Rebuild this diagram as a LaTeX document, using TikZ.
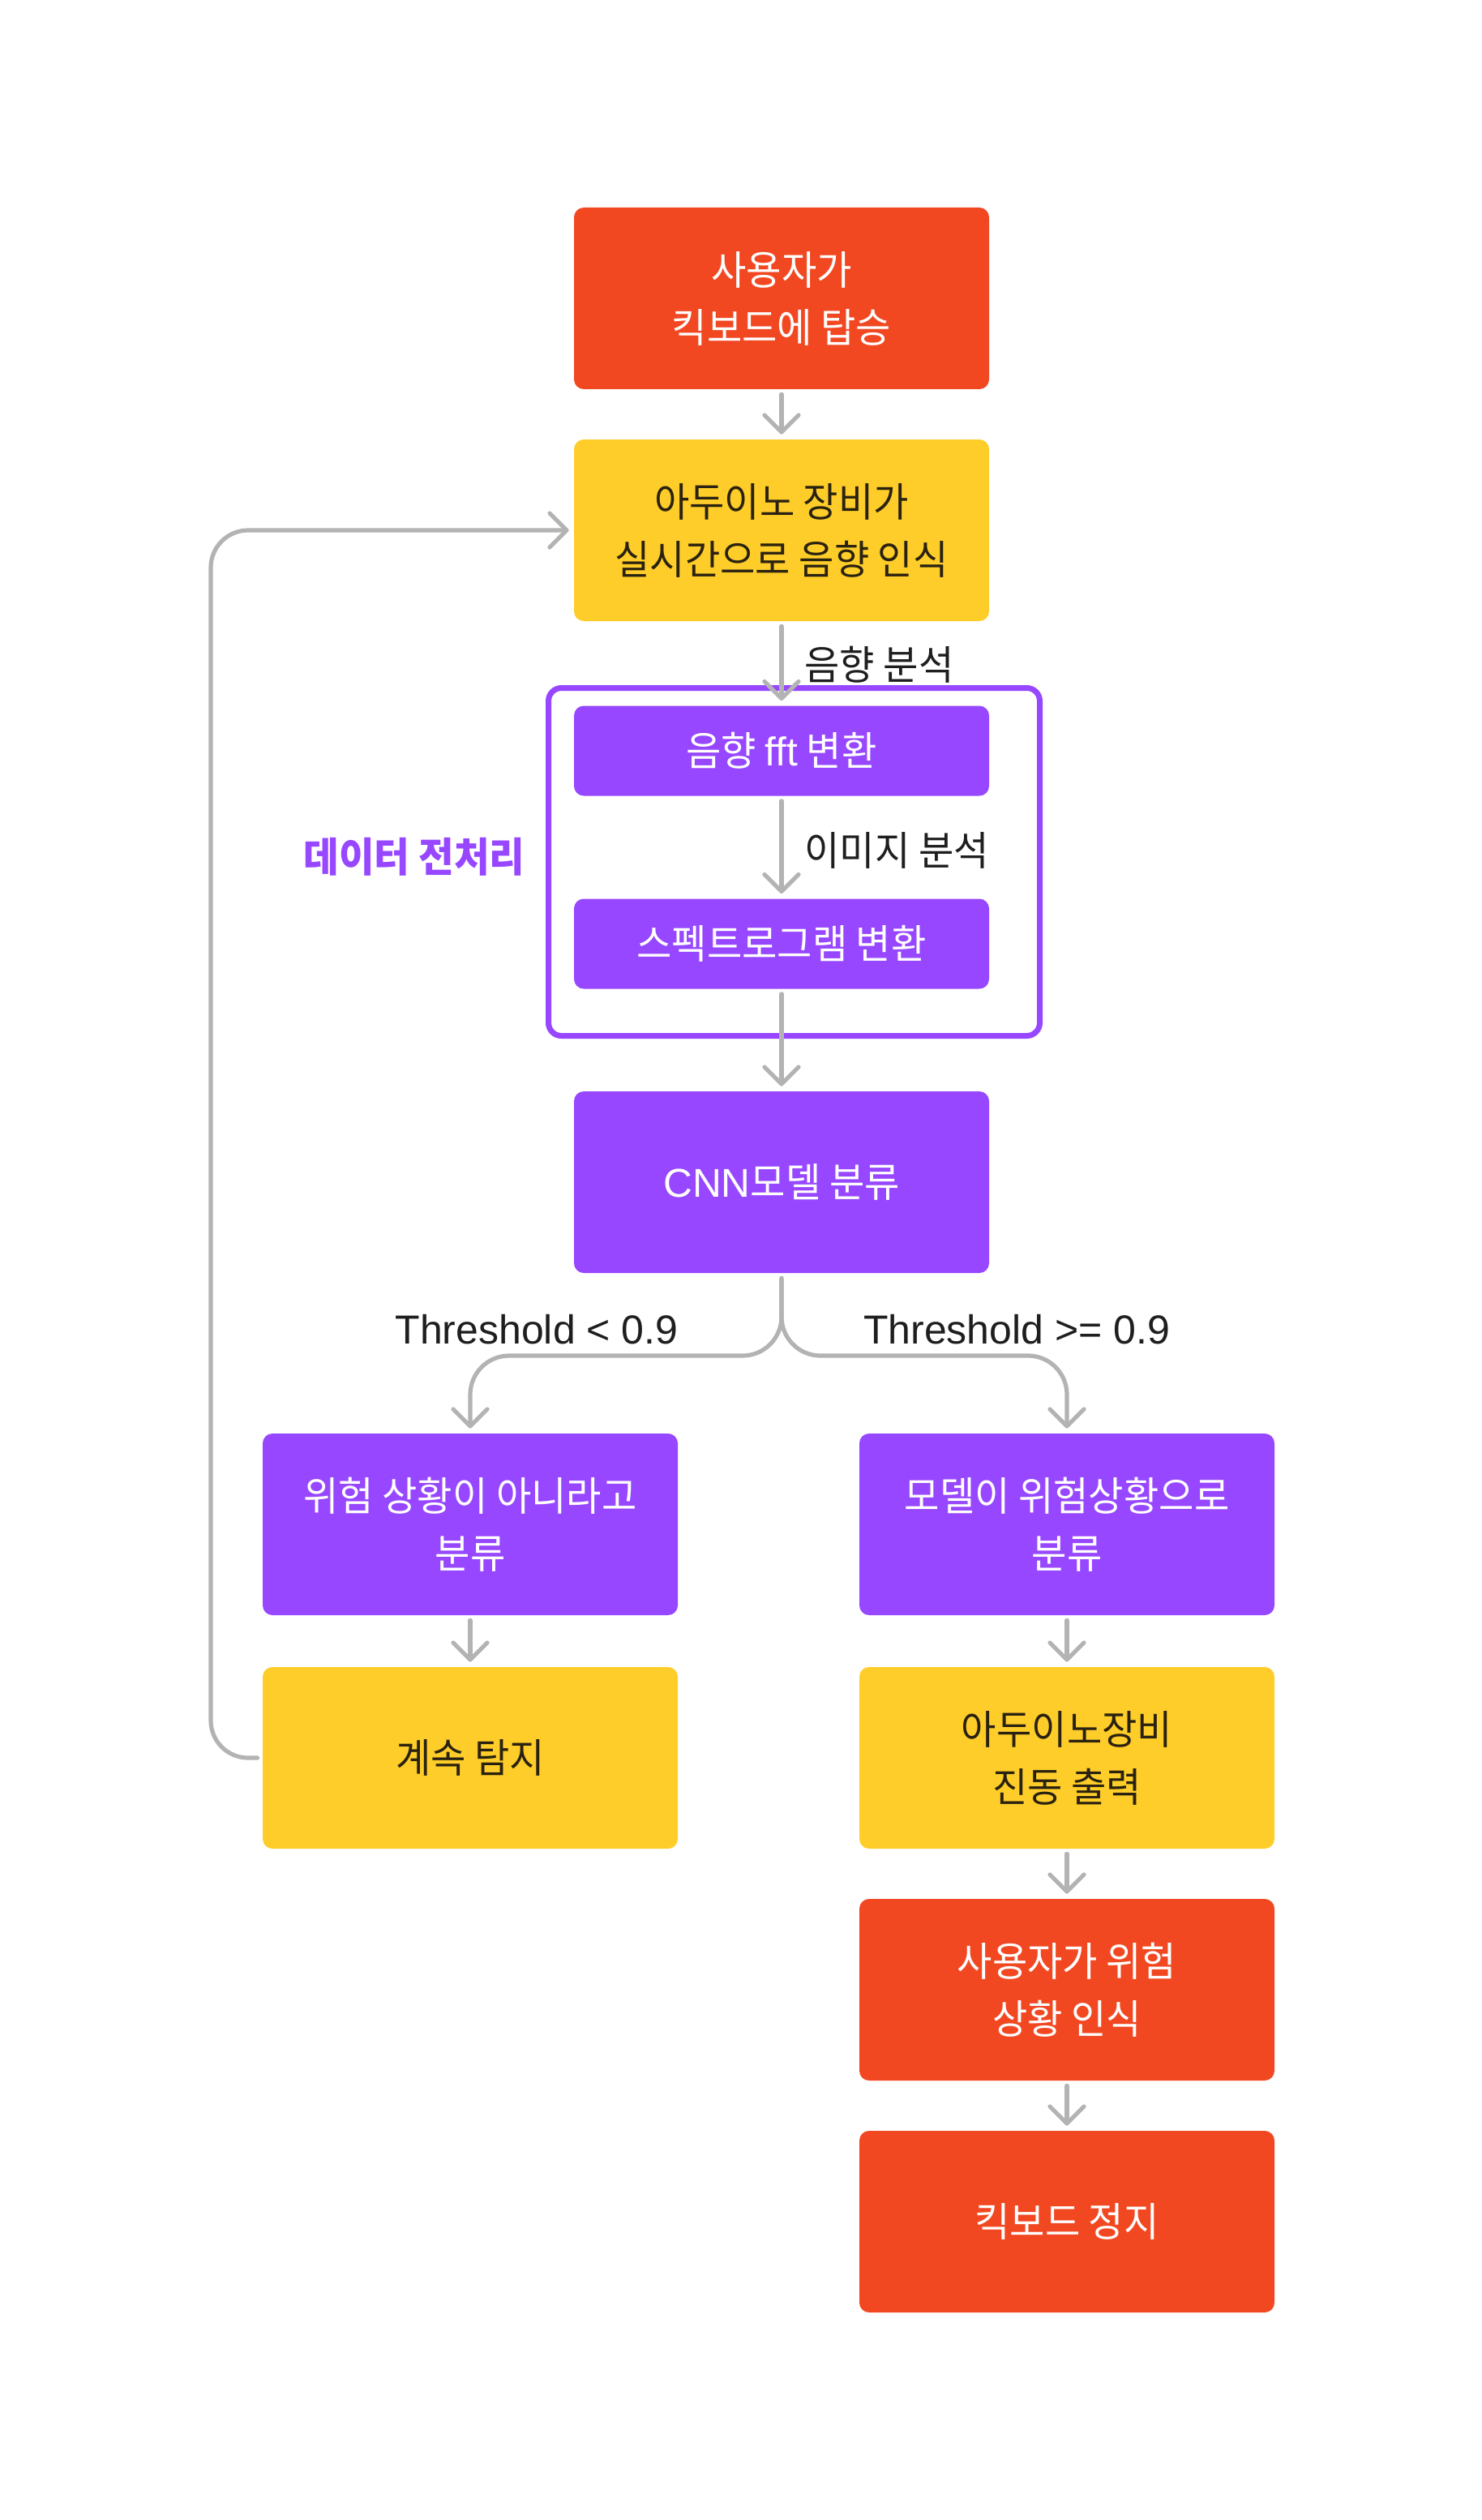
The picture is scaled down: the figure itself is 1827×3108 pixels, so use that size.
\documentclass[tikz,border=0pt]{standalone}
\usepackage{fontspec}
\setmainfont{Liberation Sans}
\newfontfamily\kr[FakeStretch=0.95]{Noto Sans CJK KR}
\usetikzlibrary{arrows.meta}
\definecolor{kred}{HTML}{F24822}
\definecolor{kyel}{HTML}{FFCD29}
\definecolor{kpur}{HTML}{9747FF}
\definecolor{kgray}{HTML}{B3B3B3}
\definecolor{kdark}{HTML}{1E1E1E}
\definecolor{kbrown}{HTML}{2A2210}
\begin{document}
\begin{tikzpicture}[x=0.5pt,y=-0.5pt,
  box/.style={rectangle, rounded corners=6pt, minimum width=256pt, minimum height=112pt,
    inner sep=0pt, align=center, font=\kr\fontsize{24.8}{35.5}\selectfont, text=white},
  redbox/.style={box, fill=kred},
  yelbox/.style={box, fill=kyel, text=kbrown},
  purbox/.style={box, fill=kpur},
  thinbox/.style={minimum height=55.5pt},
  lbl/.style={font=\kr\fontsize{24.8}{28}\selectfont, text=kdark, inner sep=0pt},
  thr/.style={font=\fontsize{25}{28}\selectfont, text=kdark, inner sep=0pt},
  conn/.style={draw=kgray, line width=2.6pt, line cap=round, line join=round,
    shorten >=3pt, shorten <=3pt,
    -{Straight Barb[length=10.5pt,width=21pt,round]}}
]
\fill[white] (0,0) rectangle (1827,3108);
\useasboundingbox (0,0) rectangle (1827,3108);

% pre-processing frame
\node[draw=kpur, line width=3.5pt, rounded corners=8pt, minimum width=303pt,
  minimum height=214.5pt, inner sep=0pt] (frame) at (979.5,1063) {};
\node[font=\kr\bfseries\fontsize{25}{28}\selectfont, text=kpur, anchor=east, inner sep=0pt]
  (prelbl) at (648,1057) {데이터 전처리};

% boxes
\node[redbox] (n1) at (964,368) {사용자가\\킥보드에 탑승};
\node[yelbox] (n2) at (964,654) {아두이노 장비가\\실시간으로 음향 인식};
\node[purbox,thinbox] (n3) at (964,926) {음향 {\rmfamily fft} 변환};
\node[purbox,thinbox] (n4) at (964,1164) {스펙트로그램 변환};
\node[purbox] (n5) at (964,1458) {{\rmfamily CNN}모델 분류};
\node[purbox] (l1) at (580,1880) {위험 상황이 아니라고\\분류};
\node[purbox] (r1) at (1316,1880) {모델이 위험상황으로\\분류};
\node[yelbox] (l2) at (580,2168) {계속 탐지};
\node[yelbox] (r2) at (1316,2168) {아두이노장비\\진동 출력};
\node[redbox] (r3) at (1316,2454) {사용자가 위험\\상황 인식};
\node[redbox] (r4) at (1316,2740) {킥보드 정지};

% labels
\node[lbl, anchor=west] (t1) at (992,820) {음향 분석};
\node[lbl, anchor=west] (t2) at (992,1049) {이미지 분석};
\node[thr] (t3) at (662,1640) {Threshold < 0.9};
\node[thr] (t4) at (1254,1640) {Threshold >= 0.9};

% connectors
\draw[conn] (n1) -- (n2);
\draw[conn] (n2) -- (n3);
\draw[conn] (n3) -- (n4);
\draw[conn] (n4) -- (n5);
\coordinate (bj) at (964,1672);
\draw[conn, rounded corners=24pt] (n5.south) -- (bj) -| (l1.north);
\draw[conn, rounded corners=24pt] (n5.south) -- (bj) -| (r1.north);
\draw[conn] (l1) -- (l2);
\draw[conn] (r1) -- (r2);
\draw[conn] (r2) -- (r3);
\draw[conn] (r3) -- (r4);
\coordinate (lx) at (260,2168);
\draw[conn, rounded corners=23pt] (l2.west) -- (lx) |- (n2.west);
\end{tikzpicture}
\end{document}
